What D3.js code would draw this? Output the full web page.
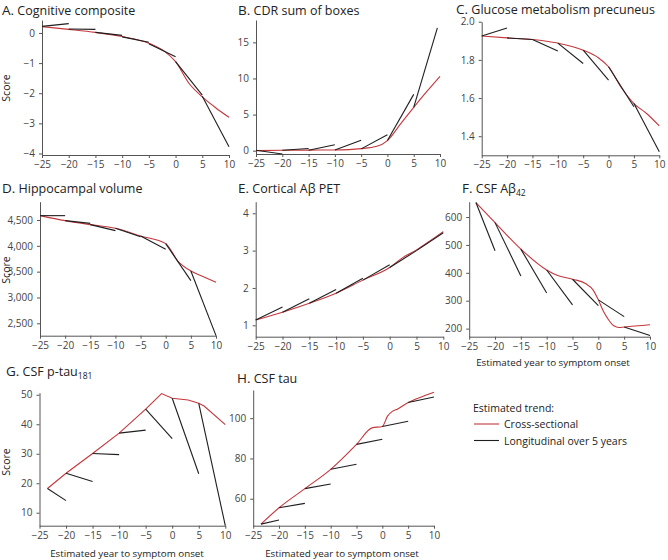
<!DOCTYPE html>
<html><head><meta charset="utf-8">
<script src="https://cdn.jsdelivr.net/npm/d3@7"></script>
<style>body{margin:0;background:#fff}svg{font-family:"Open Sans",sans-serif}</style>
</head><body>
<svg id="c" width="668" height="560"></svg>
<script>
// ---------- DATA ----------
const xTicks = [-25, -20, -15, -10, -5, 0, 5, 10];

const crossA = [[-25,0.21],[-20,0.12],[-15,0.02],[-10,-0.12],[-5,-0.34],[-2,-0.62],[0,-0.95],[2.5,-1.67],[5,-2.12],[7.5,-2.48],[10,-2.8]];
const longA = [[-25,0.22,-20,0.31],[-20,0.13,-15,0.12],[-15,0.02,-10,-0.08],[-10,-0.13,-5,-0.31],[-5,-0.36,0,-0.79],[0,-0.95,5,-2.06],[5,-2.1,10,-3.78]];
const yTicksA = [0,-1,-2,-3,-4];

const crossB = [[-25,0],[-20,0.05],[-15,0.08],[-10,0.1],[-5,0.28],[-2,0.6],[0,1.4],[2.5,3.7],[5,6.0],[7.5,8.2],[10,10.3]];
const longB = [[-25,0.05,-20,-0.46],[-20,0.05,-15,0.3],[-15,0.05,-10,0.83],[-10,0.1,-5,1.43],[-5,0.25,0,2.2],[0,1.4,5,7.8],[5,6.0,9.5,17.0]];
const yTicksB = [0,5,10,15];

const crossC = [[-25,1.925],[-20,1.915],[-15,1.907],[-10,1.888],[-5,1.851],[-2,1.811],[0,1.764],[2.5,1.655],[5,1.571],[7.5,1.519],[10,1.454]];
const longC = [[-25,1.925,-20,1.967],[-20,1.915,-15,1.907],[-15,1.907,-10,1.846],[-10,1.888,-5,1.781],[-5,1.851,0,1.694],[0,1.764,5,1.554],[5,1.571,10,1.318]];
const yTicksC = [1.4,1.6,1.8,2.0];

const crossD = [[-25,4584],[-20,4487],[-15,4410],[-10,4339],[-5,4190],[0,4042],[2.5,3694],[5,3513],[7.5,3403],[10,3294]];
const longD = [[-25,4584,-20,4584],[-20,4487,-15,4435],[-15,4410,-10,4294],[-10,4339,-5,4177],[-5,4190,0,3932],[0,4042,5,3326],[5,3513,10,2262]];
const yTicksD = [2500,3000,3500,4000,4500];

const crossE = [[-25,1.14],[-20,1.35],[-15,1.59],[-10,1.86],[-5,2.21],[0,2.55],[2.5,2.82],[5,3.02],[7.5,3.26],[10,3.51]];
const longE = [[-25,1.14,-20,1.49],[-20,1.35,-15,1.71],[-15,1.59,-10,1.96],[-10,1.86,-5,2.26],[-5,2.21,0,2.62],[0,2.55,5,3.0],[5,3.0,10,3.48]];
const yTicksE = [1,2,3,4];

const crossF = [[-23.7,652],[-20,580],[-15,485],[-10,410],[-8,391],[-5,377],[-2.5,362],[-1,338],[0,303],[1,261],[2,231],[3,210],[4,204],[5,206],[10,214]];
const longF = [[-23.7,652,-20,479],[-20,580,-15,389],[-15,485,-10,328],[-10,410,-5,285],[-5,377,0,282],[0,303,5,243],[5,206,10,175]];
const yTicksF = [200,300,400,500,600];

const crossG = [[-23.5,18.2],[-20,23.4],[-15,30.1],[-10,37.0],[-5,45.1],[-2,50.4],[0,48.8],[3,48.2],[5,47.1],[6,46.2],[10,39.9]];
const longG = [[-23.5,18.2,-20,14.1],[-20,23.4,-15,20.6],[-15,30.1,-10,29.7],[-10,37.0,-5,38.0],[-5,45.1,0,35.1],[0,48.8,5,23.2],[5,47.1,10,5.6]];
const yTicksG = [10,20,30,40,50];

const crossH = [[-23.5,47.4],[-20,55.5],[-15,65.0],[-10,74.6],[-5,87.0],[-2,95.2],[0,95.9],[1,101.0],[2,103.5],[3,104.6],[5,107.8],[7,110],[10,112.9]];
const longH = [[-23.5,47.4,-20,49.4],[-20,55.5,-15,57.7],[-15,65.0,-10,67.3],[-10,74.6,-5,77.1],[-5,87.0,0,89.5],[0,95.9,5,98.5],[5,107.8,10,110.5]];
const yTicksH = [60,80,100];

const legendLabels = ["Cross-sectional", "Longitudinal over 5 years"];

// ---------- LAYOUT ----------
const panels = [
  {letter:"A.", title:"Cognitive composite", cross:crossA, long:longA, yt:yTicksA, fmt:d3.format("d"),
   xr:[42,229], yd:[-4.05,0.43], yr:[155,20], tx:2, ty:14.5, score:88},
  {letter:"B.", title:"CDR sum of boxes", cross:crossB, long:longB, yt:yTicksB, fmt:d3.format("d"),
   xr:[256,440], yd:[-0.46,18.1], yr:[154,20], tx:238, ty:14.5},
  {letter:"C.", title:"Glucose metabolism precuneus", cross:crossC, long:longC, yt:yTicksC, fmt:d3.format(".1f"),
   xr:[481.7,659.3], yd:[1.30,2.0], yr:[155.3,21.7], tx:456, ty:14},
  {letter:"D.", title:"Hippocampal volume", cross:crossD, long:longD, yt:yTicksD, fmt:d3.format(","),
   xr:[40,216], yd:[2260,4854], yr:[335.7,201.7], tx:2, ty:193, score:270},
  {letter:"E.", title:"Cortical A\u03b2 PET", cross:crossE, long:longE, yt:yTicksE, fmt:d3.format("d"),
   xr:[255.7,443.3], yd:[0.695,4.31], yr:[336.7,201.7], tx:238, ty:193},
  {letter:"F.", title:"CSF A\u03b2", sub:"42", cross:crossF, long:longF, yt:yTicksF, fmt:d3.format("d"),
   xr:[469.2,650], yd:[171,655], yr:[336.7,201.7], tx:462, ty:193, xlab:[553,366]},
  {letter:"G.", title:"CSF p-tau", sub:"181", cross:crossG, long:longG, yt:yTicksG, fmt:d3.format("d"), linear:true,
   xr:[39.5,225.3], yd:[5.6,50.7], yr:[525.7,392.7], tx:6, ty:376, score:462, xlab:[127,557]},
  {letter:"H.", title:"CSF tau", cross:crossH, long:longH, yt:yTicksH, fmt:d3.format("d"),
   xr:[253.2,434], yd:[46.6,114], yr:[525.7,390], tx:237, ty:383, xlab:[342,557]}
];

const RED = "#c4373d", BLK = "#1e1e1e", TXT = "#222", AX = "#555";
const svg = d3.select("#c");

panels.forEach(p => {
  const x = d3.scaleLinear().domain([-25,10]).range(p.xr);
  const y = d3.scaleLinear().domain(p.yd).range(p.yr);
  const g = svg.append("g");

  const xa = g.append("g").attr("transform", `translate(0,${p.yr[0]})`)
    .call(d3.axisBottom(x).tickValues(xTicks).tickSize(3).tickSizeOuter(0).tickPadding(3).tickFormat(d3.format("d")));
  const ya = g.append("g").attr("transform", `translate(${p.xr[0]},0)`)
    .call(d3.axisLeft(y).tickValues(p.yt).tickSize(3).tickSizeOuter(0).tickPadding(4).tickFormat(p.fmt));
  [xa, ya].forEach(a => {
    a.select(".domain").attr("stroke", AX).attr("stroke-width", 1);
    a.selectAll(".tick line").attr("stroke", AX);
    a.selectAll("text").attr("fill", "#444").style("font-size", "10px").style("font-family", "Open Sans");
  });

  g.append("path").datum(p.cross)
    .attr("fill", "none").attr("stroke", RED).attr("stroke-width", 1.1)
    .attr("d", d3.line().x(d => x(d[0])).y(d => y(d[1])).curve(p.linear ? d3.curveLinear : d3.curveMonotoneX));

  g.selectAll("line.lg").data(p.long).enter().append("line")
    .attr("x1", d => x(d[0])).attr("y1", d => y(d[1]))
    .attr("x2", d => x(d[2])).attr("y2", d => y(d[3]))
    .attr("stroke", BLK).attr("stroke-width", 1.1);

  const t = g.append("text").attr("x", p.tx).attr("y", p.ty).attr("fill", TXT);
  t.append("tspan").text(p.letter).style("font-size", "13.5px");
  t.append("tspan").text(" " + p.title).style("font-size", "12.5px");
  if (p.sub) t.append("tspan").text(p.sub).style("font-size", "8.5px").attr("dy", 3);

  if (p.score) {
    g.append("text").attr("transform", `translate(9.5,${p.score}) rotate(-90)`)
      .attr("text-anchor", "middle").style("font-size", "10.5px").attr("fill", TXT).text("Score");
  }
  if (p.xlab) {
    g.append("text").attr("x", p.xlab[0]).attr("y", p.xlab[1]).attr("text-anchor", "middle")
      .style("font-size", "9.8px").attr("fill", TXT).text("Estimated year to symptom onset");
  }
});

const lg = svg.append("g");
lg.append("text").attr("x", 473).attr("y", 412).style("font-size", "10.5px").attr("fill", TXT).text("Estimated trend:");
[RED, BLK].forEach((c, i) => {
  const yy = 424 + i * 16.5;
  lg.append("line").attr("x1", 474).attr("x2", 499).attr("y1", yy).attr("y2", yy).attr("stroke", c).attr("stroke-width", 1.1);
  lg.append("text").attr("x", 504).attr("y", yy + 4).style("font-size", "10.5px").attr("fill", TXT).text(legendLabels[i]);
});
</script>
</body></html>
